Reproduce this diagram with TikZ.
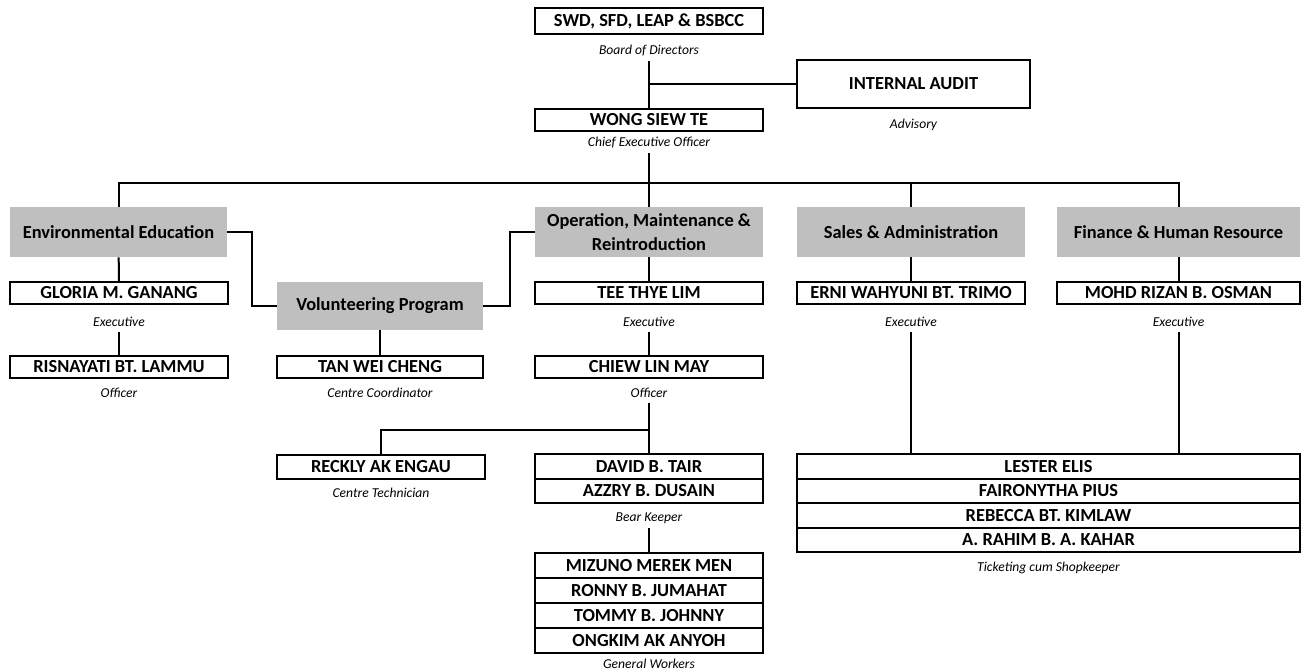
\documentclass[tikz,border=0pt]{standalone}
\usepackage{fontspec}
\setmainfont{Carlito}
\usepackage{xcolor}
\usepackage{tikz}
\definecolor{unitgrey}{HTML}{BFBFBF}
\tikzset{
    wd/.style = {minimum width = #1*0.75pt},
    ht/.style = {minimum height = #1*0.75pt},
    person/.style = {draw, line width = 1.5pt, inner sep = 0pt, minimum height = 18pt, font = \fontsize{13.8}{16}\selectfont\bfseries},
    unit/.style = {fill = unitgrey, inner sep = 0pt, align = center, minimum height = 37.5pt, font = \fontsize{13.8}{18}\selectfont\bfseries},
    role/.style = {inner sep = 3.5pt, font = \fontsize{10.2}{11}\selectfont\itshape},
    link/.style = {line width = 1.5pt}
}
\begin{document}
\begin{tikzpicture}[x = 0.75pt, y = -0.75pt]
        \useasboundingbox (0, 0) rectangle (1302, 671);
        % board and ceo
        \node (swd) at (649, 21) [person, wd = 228, ht = 26] {SWD, SFD, LEAP \& BSBCC};
        \node (board) at (649, 51) [role] {Board of Directors};
        \node (audit) at (913.5, 84) [person, wd = 233, ht = 48] {INTERNAL AUDIT};
        \node (advisory) at (913.5, 125) [role] {Advisory};
        \node (wong) at (649, 120) [person, wd = 228, ht = 22] {WONG SIEW TE};
        \node (ceo) at (649, 143) [role] {Chief Executive Officer};
        \coordinate (bus) at (649, 183);
        % units
        \node (ee) at (118.5, 232) [unit, wd = 217] {Environmental Education};
        \node (omr) at (649, 232) [unit, wd = 228] {Operation, Maintenance \&\\Reintroduction};
        \node (sales) at (911, 232) [unit, wd = 228] {Sales \& Administration};
        \node (fin) at (1178.5, 232) [unit, wd = 243] {Finance \& Human Resource};
        \node (vp) at (380, 306) [unit, wd = 206, ht = 48] {Volunteering Program};
        % executives
        \node (gloria) at (119, 293) [person, wd = 218, ht = 22] {GLORIA M. GANANG};
        \node (exec1) at (119, 322) [role] {Executive};
        \node (tee) at (649, 293) [person, wd = 228, ht = 22] {TEE THYE LIM};
        \node (exec2) at (649, 322) [role] {Executive};
        \node (erni) at (911, 293) [person, wd = 228, ht = 22] {ERNI WAHYUNI BT. TRIMO};
        \node (exec3) at (911, 322) [role] {Executive};
        \node (mohd) at (1178.5, 293) [person, wd = 243, ht = 22] {MOHD RIZAN B. OSMAN};
        \node (exec4) at (1178.5, 322) [role] {Executive};
        % officers
        \node (risna) at (119, 367) [person, wd = 218, ht = 22] {RISNAYATI BT. LAMMU};
        \node (off1) at (119, 393) [role] {Officer};
        \node (tan) at (380, 367) [person, wd = 206, ht = 22] {TAN WEI CHENG};
        \node (coord) at (380, 393) [role] {Centre Coordinator};
        \node (chiew) at (649, 367) [person, wd = 228, ht = 22] {CHIEW LIN MAY};
        \node (off2) at (649, 393) [role] {Officer};
        \coordinate (split) at (649, 430);
        % staff
        \node (reckly) at (381, 467) [person, wd = 208, ht = 24] {RECKLY AK ENGAU};
        \node (tech) at (381, 493) [role] {Centre Technician};
        \node (david) at (649, 466.5) [person, wd = 228, ht = 24.5] {DAVID B. TAIR};
        \node (azzry) at (649, 491) [person, wd = 228, ht = 24.5] {AZZRY B. DUSAIN};
        \node (bear) at (649, 518) [role] {Bear Keeper};
        \node (mizuno) at (649, 565.5) [person, wd = 228, ht = 25] {MIZUNO MEREK MEN};
        \node (ronny) at (649, 590.5) [person, wd = 228, ht = 25] {RONNY B. JUMAHAT};
        \node (tommy) at (649, 615.5) [person, wd = 228, ht = 25] {TOMMY B. JOHNNY};
        \node (ongkim) at (649, 640.5) [person, wd = 228, ht = 25] {ONGKIM AK ANYOH};
        \node (workers) at (649, 663.5) [role] {General Workers};
        \node (lester) at (1048.5, 466.5) [person, wd = 503, ht = 24.5] {LESTER ELIS};
        \node (fairo) at (1048.5, 491) [person, wd = 503, ht = 24.5] {FAIRONYTHA PIUS};
        \node (rebecca) at (1048.5, 515.5) [person, wd = 503, ht = 24.5] {REBECCA BT. KIMLAW};
        \node (rahim) at (1048.5, 540) [person, wd = 503, ht = 24.5] {A. RAHIM B. A. KAHAR};
        \node (shop) at (1048.5, 568) [role] {Ticketing cum Shopkeeper};
        % links
        \draw [link] (board) -- (wong);
        \draw [link] (audit.west) -- (audit.west -| wong.north);
        \draw [link] (ceo) -- (omr);
        \draw [link] (ee.north) |- (bus) -| (fin.north);
        \draw [link] (sales.north) -- (sales.north |- bus);
        \draw [link] (ee.east) -- ++(25, 0) |- (vp.west);
        \draw [link] (vp.east) -- ++(27, 0) |- (omr.west);
        \draw [link] (ee) -- (gloria);
        \draw [link] (exec1) -- (risna);
        \draw [link] (vp) -- (tan);
        \draw [link] (omr) -- (tee);
        \draw [link] (exec2) -- (chiew);
        \draw [link] (sales) -- (erni);
        \draw [link] (fin) -- (mohd);
        \draw [link] (off2) -- (david);
        \draw [link] (reckly.north) |- (split);
        \draw [link] (bear) -- (mizuno);
        \draw [link] (exec3) -- (exec3 |- lester.north);
        \draw [link] (exec4) -- (exec4 |- lester.north);
    \end{tikzpicture}
\end{document}
